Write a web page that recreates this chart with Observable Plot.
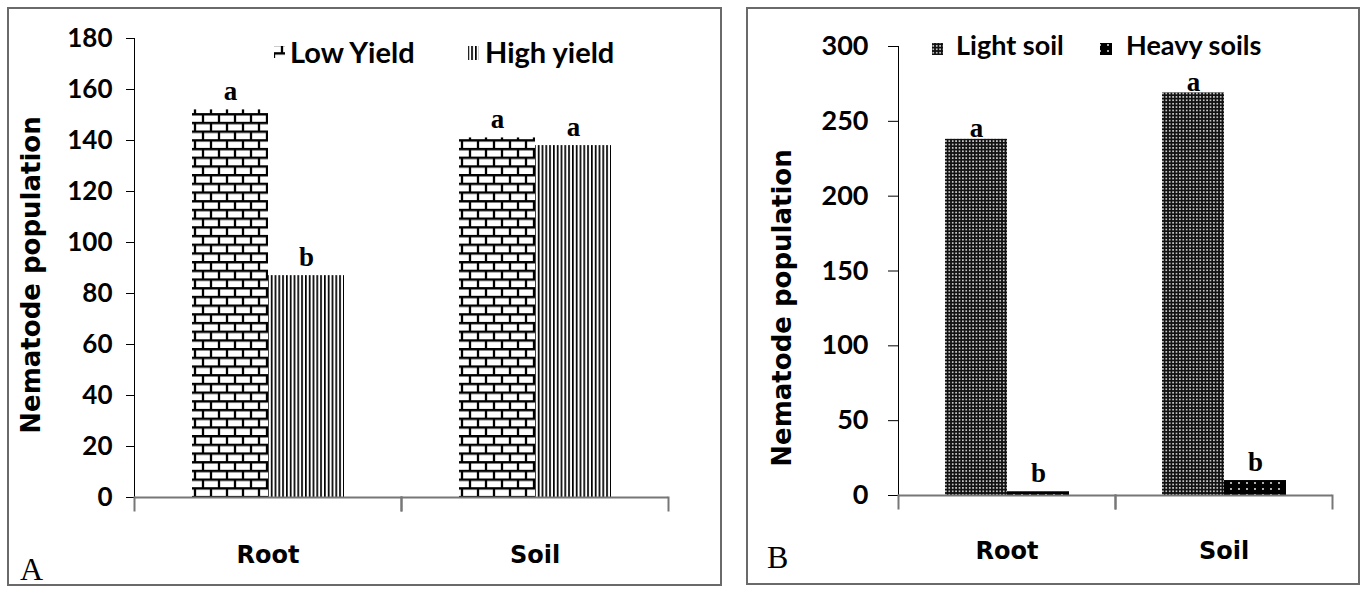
<!DOCTYPE html>
<html><head><meta charset="utf-8">
<script src="https://cdn.jsdelivr.net/npm/d3@7"></script>
<script src="https://cdn.jsdelivr.net/npm/@observablehq/plot@0.6"></script>
<style>
html,body{margin:0;padding:0;background:#fff;}
#page{position:relative;width:1364px;height:589px;overflow:hidden;background:#fff;}
.box{position:absolute;border:2px solid #6a6a6a;box-sizing:border-box;pointer-events:none;z-index:5;}
.plotwrap{position:absolute;top:0;z-index:2;}
.plotwrap svg{max-width:none !important;background:transparent !important;display:block;}
#page g[aria-label^="fx-axis"] text{font-family:"DejaVu Sans";font-size:24px;font-weight:bold;}
#overlay{position:absolute;left:0;top:0;z-index:6;pointer-events:none;}
</style>
</head><body><div id="page"></div>
<script>
// ---- data ----
const categories = ["Root", "Soil"];
// Panel A
const seriesA = ["Low Yield", "High yield"];
const lowYield = [152, 141];
const highYield = [87, 138];
const lettersLowYield = ["a", "a"];
const lettersHighYield = ["b", "a"];
const ticksA = [0, 20, 40, 60, 80, 100, 120, 140, 160, 180];
// Panel B
const seriesB = ["Light soil", "Heavy soils"];
const lightSoil = [238, 269];
const heavySoils = [2.5, 10];
const lettersLightSoil = ["a", "a"];
const lettersHeavySoils = ["b", "b"];
const ticksB = [0, 50, 100, 150, 200, 250, 300];
const yLabel = "Nematode population";
const panelLabels = ["A", "B"];

const page = document.getElementById("page");
const NS = "http://www.w3.org/2000/svg";

// pattern definitions
const defs = document.createElementNS(NS, "svg");
defs.setAttribute("width", "0"); defs.setAttribute("height", "0");
defs.style.position = "absolute";
defs.innerHTML = `
<defs>
 <pattern id="brick" patternUnits="userSpaceOnUse" width="16" height="17.4">
  <rect width="16" height="17.4" fill="#fff"/>
  <path d="M0 1.2H16M0 9.9H16M2 1.2V9.9M10 9.9V18.6" stroke="#000" stroke-width="2.3" fill="none"/>
 </pattern>
 <pattern id="vstripe" patternUnits="userSpaceOnUse" width="3.8" height="10">
  <rect width="3.8" height="10" fill="#fff"/>
  <rect width="1.7" height="10" fill="#000"/>
 </pattern>
 <pattern id="dots" patternUnits="userSpaceOnUse" width="3.4" height="3.4">
  <rect width="3.4" height="3.4" fill="#111"/>
  <circle cx="1.7" cy="1.7" r="0.85" fill="#fff"/>
 </pattern>
 <pattern id="heavy" patternUnits="userSpaceOnUse" width="8" height="6">
  <rect width="8" height="6" fill="#000"/>
  <circle cx="4" cy="3" r="0.9" fill="#fff"/>
 </pattern>
</defs>`;
page.appendChild(defs);

function rows(series, a, b, la, lb) {
  return categories.flatMap((c, i) => [
    {category: c, series: series[0], value: a[i], letter: la[i]},
    {category: c, series: series[1], value: b[i], letter: lb[i]}
  ]);
}
const rowsA = rows(seriesA, lowYield, highYield, lettersLowYield, lettersHighYield);
const rowsB = rows(seriesB, lightSoil, heavySoils, lettersLightSoil, lettersHeavySoils);

function panel({data, series, fills, ticks, width, height, mL, mR, mT, mB, tickSize, tickPadding, tickFont, fxPad, letterDy}) {
  const frameH = height - mT - mB;
  const letterStyle = {fontFamily: "Liberation Serif", fontWeight: "bold", fontSize: 27, lineAnchor: "bottom"};
  return Plot.plot({
    width, height,
    marginLeft: mL, marginRight: mR, marginTop: mT, marginBottom: mB,
    style: {fontFamily: "Lato", fontWeight: "bold", fontSize: tickFont + "px", color: "#000", background: "transparent"},
    facet: {data, x: "category"},
    fx: {domain: categories, padding: 0, axis: "bottom", tickSize: 0, tickPadding: fxPad, label: null},
    x: {domain: series, paddingInner: 0, paddingOuter: 0.75, axis: null},
    y: {domain: [ticks[0], ticks[ticks.length - 1]], ticks, tickSize, tickPadding, label: null, line: true},
    color: {domain: series, range: fills},
    marks: [
      Plot.barY(data, {x: "series", y: "value", fill: "series"}),
      Plot.ruleY([0], {stroke: "#777", strokeWidth: 2}),
      Plot.frame({anchor: "left", insetTop: frameH, insetBottom: -13, stroke: "#777", strokeWidth: 2}),
      Plot.frame({anchor: "right", insetTop: frameH, insetBottom: -13, stroke: "#777", strokeWidth: 2}),
      ...series.map((s, k) => Plot.text(data, {filter: d => d.series === s, x: "series", y: "value", text: "letter",
        dy: letterDy[k], ...letterStyle}))
    ]
  });
}

const plotA = panel({data: rowsA, series: seriesA, fills: ["url(#brick)", "url(#vstripe)"], ticks: ticksA,
  width: 720, height: 589, mL: 133, mR: 52, mT: 38, mB: 92, tickSize: 8, tickPadding: 14, tickFont: 26, fxPad: 48, letterDy: [-10, -10]});
const plotB = panel({data: rowsB, series: seriesB, fills: ["url(#dots)", "url(#heavy)"], ticks: ticksB,
  width: 634, height: 589, mL: 168, mR: 32, mT: 46, mB: 94, tickSize: 10, tickPadding: 20, tickFont: 27, fxPad: 46, letterDy: [-2, -10]});

const wa = document.createElement("div"); wa.className = "plotwrap"; wa.style.left = "0px"; wa.appendChild(plotA); page.appendChild(wa);
const wb = document.createElement("div"); wb.className = "plotwrap"; wb.style.left = "730px"; wb.appendChild(plotB); page.appendChild(wb);

// panel boxes
function box(l, t, w, h) { const d = document.createElement("div"); d.className = "box";
  Object.assign(d.style, {left: l + "px", top: t + "px", width: w + "px", height: h + "px"}); page.appendChild(d); }
box(7, 7, 715, 579);
box(746, 7, 614, 578);

// overlay: axis titles, panel letters, legends
const ov = document.createElementNS(NS, "svg");
ov.id = "overlay"; ov.setAttribute("width", 1364); ov.setAttribute("height", 589);
function txt(x, y, s, attrs) { const t = document.createElementNS(NS, "text"); t.setAttribute("x", x); t.setAttribute("y", y);
  for (const k in attrs) t.setAttribute(k, attrs[k]); t.textContent = s; ov.appendChild(t); return t; }
function sw(x, y, w, h, fill) { const r = document.createElementNS(NS, "rect"); r.setAttribute("x", x); r.setAttribute("y", y);
  r.setAttribute("width", w); r.setAttribute("height", h); r.setAttribute("fill", fill); ov.appendChild(r); }
const ylabAttrs = {"font-family": "DejaVu Sans", "font-weight": "bold", "font-size": 26, "text-anchor": "middle", "dominant-baseline": "central"};
txt(0, 0, yLabel, {...ylabAttrs, transform: "translate(31,275) rotate(-90)"});
txt(0, 0, yLabel, {...ylabAttrs, transform: "translate(782,308) rotate(-90)"});
txt(20, 580, panelLabels[0], {"font-family": "Liberation Serif", "font-size": 32});
txt(767, 568, panelLabels[1], {"font-family": "Liberation Serif", "font-size": 32});
// legend A
sw(274, 46, 11, 12, "url(#brick)");
txt(290, 63, seriesA[0], {"font-family": "Lato", "font-weight": "bold", "font-size": 29});
sw(468, 46, 11, 14, "url(#vstripe)");
txt(485, 63, seriesA[1], {"font-family": "Lato", "font-weight": "bold", "font-size": 29});
// legend B
sw(932, 43, 11, 12, "url(#dots)");
txt(956, 55, seriesB[0], {"font-family": "Lato", "font-weight": "bold", "font-size": 27});
sw(1100, 43, 12, 12, "url(#heavy)");
txt(1126, 55, seriesB[1], {"font-family": "Lato", "font-weight": "bold", "font-size": 27});
page.appendChild(ov);
</script>
</body></html>
